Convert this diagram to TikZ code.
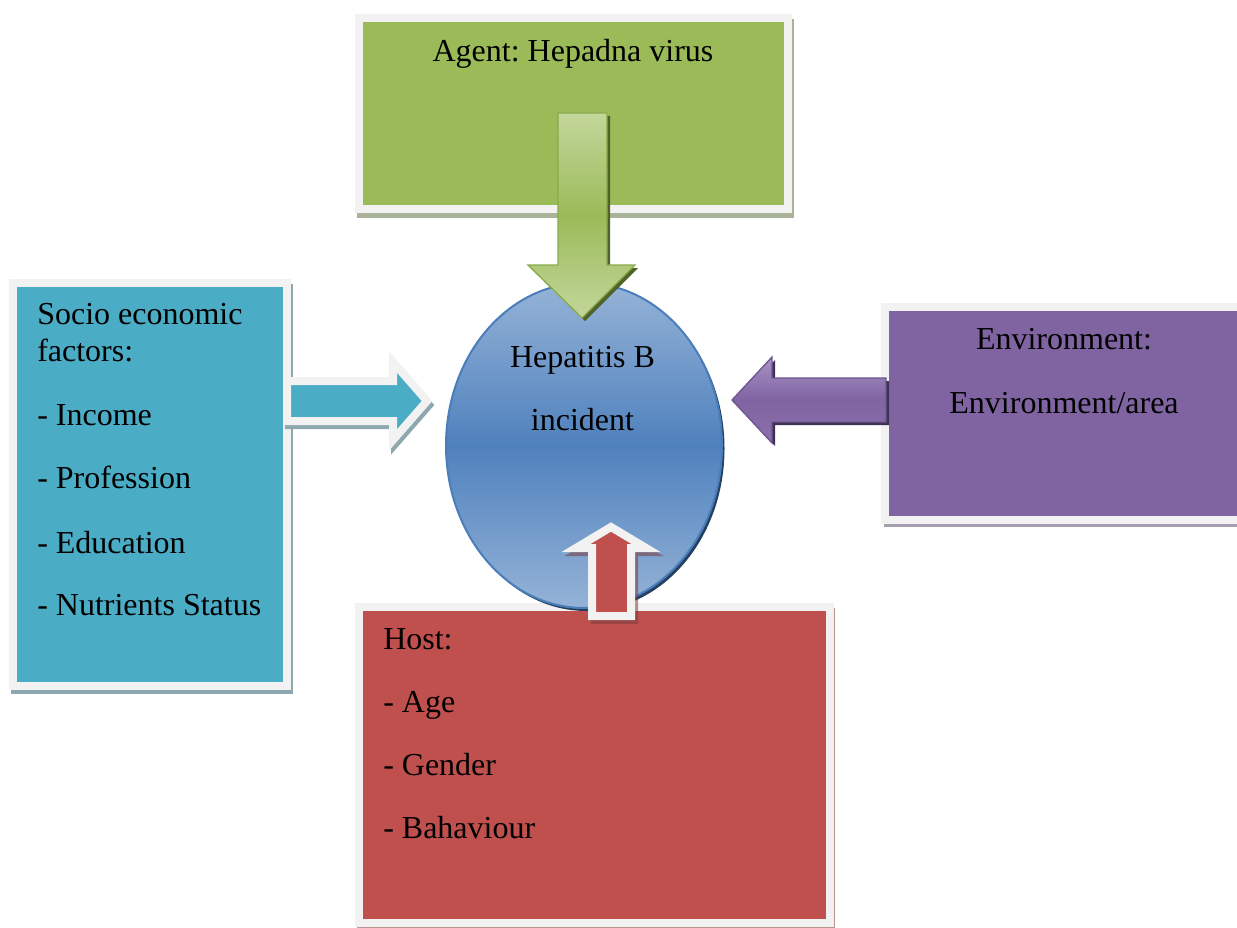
\documentclass[tikz,border=0pt]{standalone}
\usepackage{fontspec}
\setmainfont{Liberation Serif}
\frenchspacing
\definecolor{framec}{HTML}{F2F2F2}
\definecolor{agentc}{HTML}{9BBB59}
\definecolor{agentlight}{HTML}{C3D69B}
\definecolor{agentedge}{HTML}{8AAA4A}
\definecolor{agentshadow}{HTML}{4F6228}
\definecolor{agentboxsh}{HTML}{A9B398}
\definecolor{socioc}{HTML}{4BACC6}
\definecolor{socioboxsh}{HTML}{8DA7AE}
\definecolor{envc}{HTML}{8064A2}
\definecolor{envlight}{HTML}{A893C4}
\definecolor{envlow}{HTML}{8A70AC}
\definecolor{envedge}{HTML}{6E5592}
\definecolor{envshadow}{HTML}{3F3151}
\definecolor{envboxsh}{HTML}{A59FB0}
\definecolor{hostc}{HTML}{C0504D}
\definecolor{hostboxsh}{HTML}{B79593}
\definecolor{hostarrowsh}{HTML}{7A3B3F}
\definecolor{elldark}{HTML}{4F81BD}
\definecolor{elllight}{HTML}{95B3D7}
\definecolor{elledge}{HTML}{4A7EBB}
\definecolor{ellshadow}{HTML}{243F60}
\begin{document}
\begin{tikzpicture}[x=0.75pt,y=-0.75pt,line join=miter,
  boxframe/.style={draw=framec,line width=6pt},
  txt/.style={inner sep=0pt,font=\fontsize{24}{28}\selectfont,text=black}]
\useasboundingbox (0,0) rectangle (1237,927);
\clip (0,0) rectangle (1237,927);
\fill[white] (0,0) rectangle (1237,927);

% Agent box
\fill[agentboxsh] (357,19) rectangle (794,218);
\draw[boxframe,fill=agentc] (359,18) rectangle (788,209.5);
% Socio box
\fill[socioboxsh] (11,284) rectangle (293,694);
\draw[boxframe,fill=socioc] (13,283) rectangle (287,685.5);
% Environment box
\fill[envboxsh] (884,308) rectangle (1250,527);
\draw[boxframe,fill=envc] (885,307) rectangle (1250,519.5);
% Host box
\fill[hostboxsh] (357,608) rectangle (835,935);
\draw[boxframe,fill=hostc] (359,606.5) rectangle (829.5,923);

% Ellipse
\fill[ellshadow] (586.5,448.5) ellipse [x radius=138,y radius=162.5];
\shade[top color=elllight,bottom color=elllight,middle color=elldark,draw=elledge,line width=1.5pt]
  (584,445.5) ellipse [x radius=138,y radius=162.5];

% Texts
\node[txt,anchor=base] (agent) at (573,62) {Agent: Hepadna virus};
\node[txt,anchor=base west] (socio1) at (37,324) {Socio economic};
\node[txt,anchor=base west] (socio2) at (37,361) {factors:};
\node[txt,anchor=base west] (socio3) at (37,425) {- Income};
\node[txt,anchor=base west] (socio4) at (37,488) {- Profession};
\node[txt,anchor=base west] (socio5) at (37,553) {- Education};
\node[txt,anchor=base west] (socio6) at (37,615) {- Nutrients Status};
\node[txt,anchor=base] (env1) at (1064,349) {Environment:};
\node[txt,anchor=base] (env2) at (1064,413) {Environment/area};
\node[txt,anchor=base] (hep1) at (582.5,367) {Hepatitis B};
\node[txt,anchor=base] (hep2) at (582.5,430) {incident};
\node[txt,anchor=base west] (host1) at (383,649) {Host:};
\node[txt,anchor=base west] (host2) at (383,712) {- Age};
\node[txt,anchor=base west] (host3) at (383,775) {- Gender};
\node[txt,anchor=base west] (host4) at (383,838) {- Bahaviour};

% Green arrow (agent -> ellipse)
\fill[agentshadow] (561,116) -- (610,116) -- (610,268) -- (638,268) -- (585,321) -- (531,268) -- (561,268) -- cycle;
\shade[top color=agentlight,bottom color=agentlight,middle color=agentc,draw=agentedge,line width=1pt]
  (558,113) -- (607,113) -- (607,265) -- (635,265) -- (582,318) -- (528,265) -- (558,265) -- cycle;

% Purple arrow (environment -> ellipse)
\fill[envshadow] (889,381) -- (775,381) -- (775,360) -- (735,403) -- (775,446) -- (775,425) -- (889,425) -- cycle;
\shade[top color=envlight,bottom color=envlow,middle color=envc,draw=envedge,line width=1pt]
  (886,378) -- (772,378) -- (772,357) -- (732,400) -- (772,443) -- (772,422) -- (886,422) -- cycle;

% Blue arrow (socio -> ellipse)
\draw[socioboxsh,fill=socioboxsh,line width=6pt]
  (289,385) -- (395,385) -- (395,366) -- (429,405) -- (395,444) -- (395,425) -- (289,425) -- cycle;
\draw[framec,fill=socioc,line width=6pt]
  (287,381) -- (393,381) -- (393,362) -- (427,401) -- (393,440) -- (393,421) -- (287,421) -- cycle;

% Red arrow (host -> ellipse)
\draw[hostarrowsh,fill=hostarrowsh,line width=6pt,opacity=0.55]
  (595,620) -- (595,552) -- (579,552) -- (614,531) -- (649,552) -- (634,552) -- (634,620) -- cycle;
\draw[framec,fill=hostc,line width=6pt]
  (592,616) -- (592,548) -- (576,548) -- (611,527) -- (646,548) -- (631,548) -- (631,616) -- cycle;
\end{tikzpicture}
\end{document}
